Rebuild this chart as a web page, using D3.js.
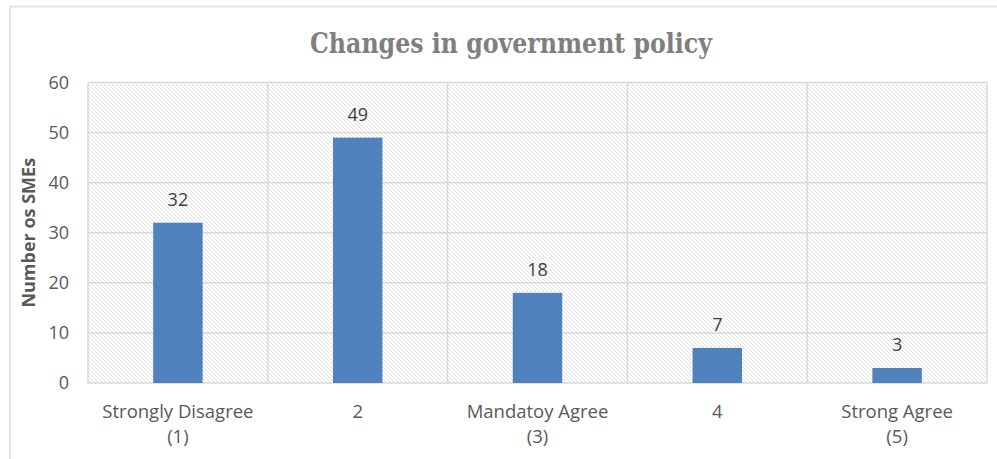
<!DOCTYPE html>
<html>
<head>
<meta charset="utf-8">
<script src="https://cdn.jsdelivr.net/npm/d3@7"></script>
<style>
  html, body { margin: 0; padding: 0; background: #fff; }
  svg { display: block; }
</style>
</head>
<body>
<svg id="chart" width="997" height="459"></svg>
<script>
// Survey responses: number of SMEs per agreement level
const categories = [
  ["Strongly Disagree", "(1)"],
  ["2"],
  ["Mandatoy Agree", "(3)"],
  ["4"],
  ["Strong Agree", "(5)"]
];
const counts = [32, 49, 18, 7, 3];
const yTicks = [0, 10, 20, 30, 40, 50, 60];
const chartTitle = "Changes in government policy";
const yTitle = "Number os SMEs";

const svg = d3.select("#chart");
const W = 997, H = 459;
const plot = { left: 88, right: 987, top: 82.5, bottom: 383 };
const sans = "'Open Sans', 'Noto Sans', sans-serif";

// Outer frame (left and top edges visible)
svg.append("path")
  .attr("d", `M10,${H + 2} L10,6.5 L${W + 2},6.5`)
  .attr("fill", "none")
  .attr("stroke", "#e3e3e3")
  .attr("stroke-width", 2);

// Diagonal hatch fill for the plot area
const defs = svg.append("defs");
const pat = defs.append("pattern")
  .attr("id", "hatch")
  .attr("patternUnits", "userSpaceOnUse")
  .attr("width", 4).attr("height", 4);
pat.append("rect").attr("width", 4).attr("height", 4).attr("fill", "#ffffff");
pat.append("path")
  .attr("d", "M-1,-1 L5,5 M-1,3 L1,5 M3,-1 L5,1")
  .attr("stroke", "#e2e2e2")
  .attr("stroke-width", 1);

const x = d3.scaleBand()
  .domain(d3.range(categories.length))
  .range([plot.left, plot.right])
  .paddingInner(0).paddingOuter(0);

const y = d3.scaleLinear()
  .domain([0, 60])
  .range([plot.bottom, plot.top]);

svg.append("rect")
  .attr("x", plot.left).attr("y", plot.top)
  .attr("width", plot.right - plot.left)
  .attr("height", plot.bottom - plot.top)
  .attr("fill", "url(#hatch)");

// Horizontal gridlines
svg.append("g")
  .selectAll("line")
  .data(yTicks)
  .join("line")
  .attr("x1", plot.left).attr("x2", plot.right)
  .attr("y1", d => y(d)).attr("y2", d => y(d))
  .attr("stroke", "#d9d9d9")
  .attr("stroke-width", 1.5);

// Vertical gridlines at category boundaries
const bounds = d3.range(categories.length + 1).map(i =>
  i < categories.length ? x(i) : x(categories.length - 1) + x.bandwidth());
svg.append("g")
  .selectAll("line")
  .data(bounds)
  .join("line")
  .attr("x1", d => d).attr("x2", d => d)
  .attr("y1", plot.top).attr("y2", plot.bottom)
  .attr("stroke", "#d9d9d9")
  .attr("stroke-width", 1.5);

// Bars
const barW = x.bandwidth() * 0.275;
svg.append("g")
  .selectAll("rect")
  .data(counts)
  .join("rect")
  .attr("x", (d, i) => x(i) + x.bandwidth() / 2 - barW / 2)
  .attr("y", d => y(d))
  .attr("width", barW)
  .attr("height", d => y(0) - y(d))
  .attr("fill", "#4f81bd");

// Value labels
svg.append("g")
  .selectAll("text")
  .data(counts)
  .join("text")
  .attr("x", (d, i) => x(i) + x.bandwidth() / 2)
  .attr("y", d => y(d) - 17)
  .attr("text-anchor", "middle")
  .attr("font-family", sans)
  .attr("font-size", 18)
  .attr("fill", "#404040")
  .text(d => d);

// Y axis tick labels
const yAxis = d3.axisLeft(y).tickValues(yTicks).tickSize(0).tickPadding(0);
const gy = svg.append("g")
  .attr("transform", `translate(${plot.left - 19},0)`)
  .call(yAxis);
gy.select(".domain").remove();
gy.selectAll("text")
  .attr("font-family", sans)
  .attr("font-size", 18)
  .attr("fill", "#595959");

// Category labels (two lines where needed)
const cat = svg.append("g")
  .selectAll("text")
  .data(categories)
  .join("text")
  .attr("x", (d, i) => x(i) + x.bandwidth() / 2)
  .attr("y", 418)
  .attr("text-anchor", "middle")
  .attr("font-family", sans)
  .attr("font-size", 18.5)
  .attr("fill", "#595959");
cat.selectAll("tspan")
  .data(d => d)
  .join("tspan")
  .attr("x", function () { return d3.select(this.parentNode).attr("x"); })
  .attr("dy", (d, i) => i === 0 ? 0 : 25)
  .text(d => d);

// Y axis title
svg.append("text")
  .attr("transform", `translate(35,${(plot.top + plot.bottom) / 2}) rotate(-90)`)
  .attr("text-anchor", "middle")
  .attr("font-family", sans)
  .attr("font-size", 18)
  .attr("font-weight", "bold")
  .attr("fill", "#595959")
  .text(yTitle);

// Chart title
svg.append("text")
  .attr("x", 511)
  .attr("y", 53)
  .attr("text-anchor", "middle")
  .attr("font-family", "'DejaVu Serif Condensed', 'DejaVu Serif', serif")
  .attr("font-size", 27)
  .attr("font-weight", "bold")
  .attr("fill", "#7f7f7f")
  .attr("textLength", 402)
  .attr("lengthAdjust", "spacingAndGlyphs")
  .text(chartTitle);
</script>
</body>
</html>
